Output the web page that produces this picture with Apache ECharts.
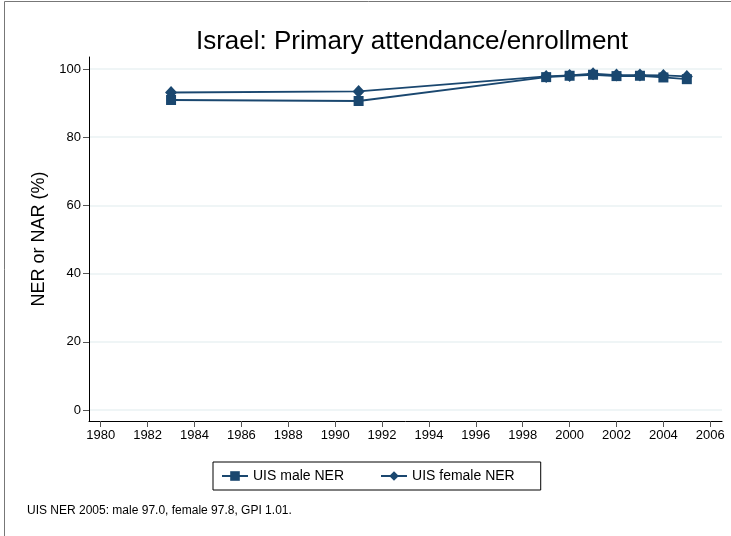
<!DOCTYPE html>
<html>
<head>
<meta charset="utf-8">
<script src="https://cdn.jsdelivr.net/npm/echarts@6/dist/echarts.min.js"></script>
<style>html,body{margin:0;padding:0;background:#fff}#c{width:731px;height:536px}</style>
</head>
<body>
<div id="c"></div>
<script>
const years = [1983, 1991, 1999, 2000, 2001, 2002, 2003, 2004, 2005];
const maleNER = [90.9, 90.6, 97.6, 98.0, 98.3, 97.9, 98.0, 97.5, 97.0];
const femaleNER = [93.1, 93.4, 97.8, 98.1, 98.6, 98.2, 98.2, 98.1, 97.8];
const xTicks = [1980, 1982, 1984, 1986, 1988, 1990, 1992, 1994, 1996, 1998, 2000, 2002, 2004, 2006];
const yTicks = [0, 20, 40, 60, 80, 100];
const titleText = 'Israel: Primary attendance/enrollment';
const yTitle = 'NER or NAR (%)';
const noteText = 'UIS NER 2005: male 97.0, female 97.8, GPI 1.01.';
const seriesNames = ['UIS male NER', 'UIS female NER'];

const col = '#1a476f';
const font = '"Liberation Sans", Arial, sans-serif';
const chart = echarts.init(document.getElementById('c'), null, {renderer: 'canvas'});
const pairs = a => years.map((y, i) => [y, a[i]]);
chart.setOption({
  animation: false,
  backgroundColor: '#fff',
  textStyle: {fontFamily: font},
  title: {
    text: titleText, left: 407, top: 24, textAlign: 'center',
    textStyle: {fontFamily: font, fontSize: 26, fontWeight: 'normal', color: '#000'}
  },
  grid: {left: 89, right: 9, top: 57, bottom: 115, containLabel: false},
  xAxis: {
    type: 'value', min: 1979.5, max: 2006.5,
    axisLine: {show: true, onZero: false, lineStyle: {color: '#000', width: 1}},
    axisTick: {show: true, length: 6, customValues: xTicks, lineStyle: {color: '#555'}},
    axisLabel: {customValues: xTicks, formatter: v => String(v), color: '#000', fontSize: 13, margin: 8, fontFamily: font},
    splitLine: {show: false}
  },
  yAxis: {
    type: 'value', min: -3.2, max: 103.5,
    name: yTitle, nameLocation: 'middle', nameGap: 40,
    nameTextStyle: {fontFamily: font, fontSize: 18, color: '#000'},
    axisLine: {show: true, onZero: false, lineStyle: {color: '#000', width: 1}},
    axisTick: {show: true, length: 6, customValues: yTicks, lineStyle: {color: '#555'}},
    axisLabel: {customValues: yTicks, formatter: v => String(v), color: '#000', fontSize: 13, margin: 8, fontFamily: font},
    splitLine: {show: true, lineStyle: {color: '#eaf2f3', width: 1.5}}
  },
  legend: {
    data: seriesNames,
    left: 213, top: 462,
    orient: 'horizontal',
    borderColor: '#000', borderWidth: 1, padding: [7, 26, 7, 8],
    itemGap: 36, itemWidth: 26, itemHeight: 12,
    textStyle: {fontFamily: font, fontSize: 14, color: '#000'}
  },
  graphic: [
    {type: 'rect', shape: {x: 4.5, y: 1.5, width: 760, height: 560}, style: {fill: 'none', stroke: '#777', lineWidth: 1}, silent: true, z: -1},
    {type: 'text', left: 27, top: 505, style: {text: noteText, fontFamily: font, fontSize: 12, fill: '#000'}}
  ],
  series: [
    {
      name: seriesNames[0], type: 'line', data: pairs(maleNER),
      symbol: 'rect', symbolSize: 10, showAllSymbol: true,
      lineStyle: {color: col, width: 1.8}, itemStyle: {color: col}
    },
    {
      name: seriesNames[1], type: 'line', data: pairs(femaleNER),
      symbol: 'diamond', symbolSize: [12, 13], showAllSymbol: true,
      lineStyle: {color: col, width: 1.8}, itemStyle: {color: col}
    }
  ]
});
</script>
</body>
</html>
